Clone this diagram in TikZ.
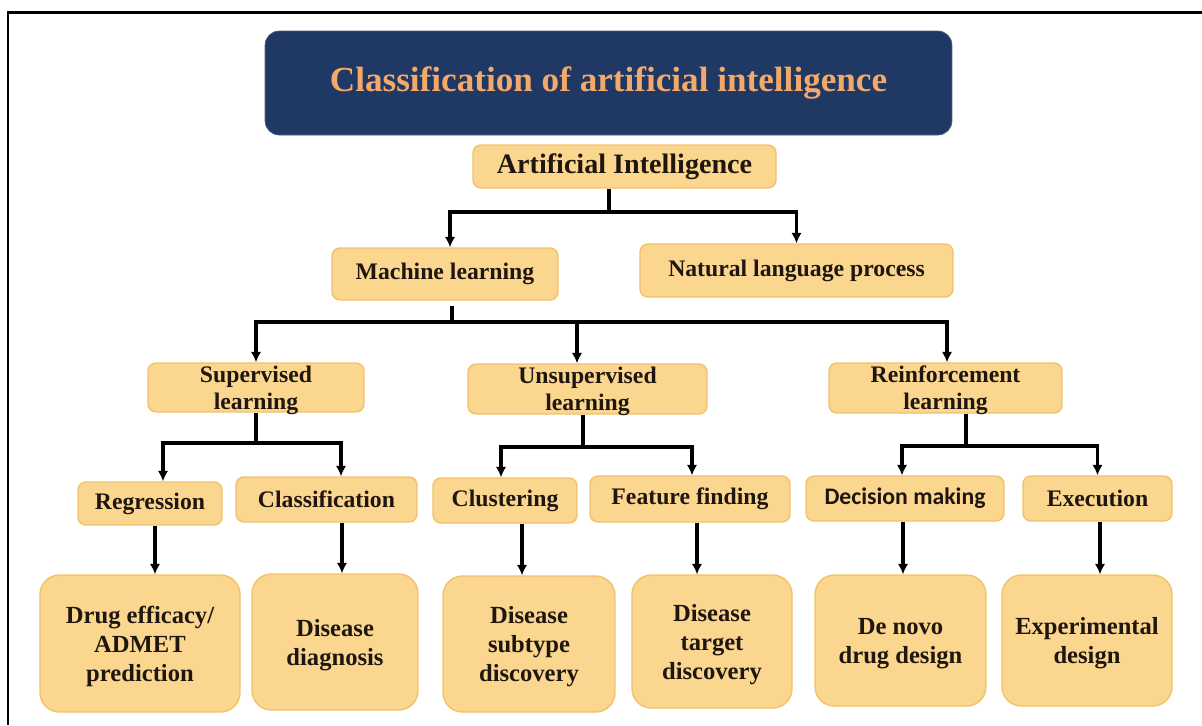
\documentclass[tikz,border=0pt]{standalone}
\usepackage{fontspec}
\setmainfont{Liberation Serif}
\newfontfamily\calibri{Carlito}
\usetikzlibrary{arrows.meta}

\definecolor{navy}{HTML}{1F3864}
\definecolor{boxfill}{HTML}{FAD68E}
\definecolor{boxline}{HTML}{F1C26A}
\definecolor{titletext}{HTML}{F3A96A}
\definecolor{ink}{HTML}{201610}

\begin{document}
\begin{tikzpicture}[x=0.02cm, y=-0.02cm,
	box/.style={draw=boxline, line width=0.8pt, fill=boxfill, rounded corners=4.5pt, text=ink, inner sep=0pt, align=center, font=\fontsize{13.5}{15.5}\selectfont\bfseries},
	twoline/.style={box, text depth=-0.5pt},
	bigbox/.style={box, rounded corners=11pt, font=\fontsize{14}{16.5}\selectfont\bfseries, text depth=-2.5pt},
	link/.style={line width=1.8pt, black},
	flow/.style={link, -{Latex[length=6pt,width=6pt]}}]
	\useasboundingbox (0,0) rectangle (1202,725);
	\draw[line width=1.2pt] (8,725) -- (8,12.5) -- (1202,12.5);

	% heading
	\node[fill=navy, draw=navy!80!white, rounded corners=8pt, minimum width=13.74cm, minimum height=2.08cm, text=titletext, font=\fontsize{20}{24}\selectfont\bfseries] (title) at (608.5,83) {Classification of artificial intelligence};

	% top of the tree
	\node[box, minimum width=6.06cm, minimum height=0.86cm, font=\fontsize{16}{18}\selectfont\bfseries] (ai) at (624.5,166.5) {Artificial Intelligence};
	\node[box, minimum width=4.52cm, minimum height=1.04cm] (ml) at (445,274) {Machine learning};
	\node[box, minimum width=6.26cm, minimum height=1.06cm] (nlp) at (796.5,270.5) {Natural language process};

	% learning types
	\node[twoline, minimum width=4.32cm, minimum height=0.98cm] (sl) at (256,387.5) {Supervised\\learning};
	\node[twoline, minimum width=4.78cm, minimum height=1.0cm] (ul) at (587.5,389) {Unsupervised\\learning};
	\node[twoline, minimum width=4.66cm, minimum height=1.0cm] (rl) at (945.5,388) {Reinforcement\\learning};

	% tasks
	\node[box, minimum width=2.88cm, minimum height=0.86cm] (reg) at (150,503.5) {Regression};
	\node[box, minimum width=3.62cm, minimum height=0.9cm] (cls) at (326.5,499.5) {Classification};
	\node[box, minimum width=2.88cm, minimum height=0.9cm] (clu) at (505,500.5) {Clustering};
	\node[box, minimum width=4.0cm, minimum height=0.92cm] (feat) at (690,499) {Feature finding};
	\node[box, minimum width=3.96cm, minimum height=0.9cm, font=\calibri\fontsize{13.5}{15.5}\selectfont\bfseries] (dec) at (905,498.5) {Decision making};
	\node[box, minimum width=2.98cm, minimum height=0.9cm] (exe) at (1097.5,498.5) {Execution};

	% applications
	\node[bigbox, minimum width=4.0cm, minimum height=2.74cm] (drug) at (140,643.5) {Drug efficacy/\\ADMET\\prediction};
	\node[bigbox, minimum width=3.32cm, minimum height=2.72cm] (diag) at (335,642) {Disease\\diagnosis};
	\node[bigbox, minimum width=3.44cm, minimum height=2.72cm] (sub) at (529,644) {Disease\\subtype\\discovery};
	\node[bigbox, minimum width=3.2cm, minimum height=2.66cm] (tgt) at (712,641.5) {Disease\\target\\discovery};
	\node[bigbox, minimum width=3.42cm, minimum height=2.62cm] (novo) at (900.5,640.5) {De novo\\drug design};
	\node[bigbox, minimum width=3.4cm, minimum height=2.62cm] (expd) at (1087,640.5) {Experimental\\design};

	% forks
	\coordinate (aifork) at (609,212);
	\coordinate (mlfork) at (452,322);
	\coordinate (slfork) at (256,443);
	\coordinate (ulfork) at (583,447);
	\coordinate (rlfork) at (966,446);

	\draw[link] (aifork |- ai.south) -- (aifork);
	\draw[flow] (aifork) -| ([xshift=0.1cm]ml.north);
	\draw[flow] (aifork) -| (nlp.north);

	\draw[link] ([yshift=-0.1cm]mlfork |- ml.south) -- (mlfork);
	\draw[flow] (mlfork) -| (sl.north);
	\draw[flow] (mlfork) -| ([xshift=-0.21cm]ul.north);
	\draw[flow] (mlfork) -| ([xshift=0.03cm]rl.north);

	\draw[link] (slfork |- sl.south) -- (slfork);
	\draw[flow] (slfork) -| ([xshift=0.26cm]reg.north);
	\draw[flow] (slfork) -| ([xshift=0.29cm]cls.north);

	\draw[link] (ulfork |- ul.south) -- (ulfork);
	\draw[flow] (ulfork) -| ([xshift=-0.08cm]clu.north);
	\draw[flow] (ulfork) -| ([xshift=0.04cm]feat.north);

	\draw[link] (rlfork |- rl.south) -- (rlfork);
	\draw[flow] (rlfork) -| ([xshift=-0.06cm]dec.north);
	\draw[flow] (rlfork) -| (exe.north);

	% tasks to applications
	\draw[flow] ([xshift=0.1cm]reg.south) -- ([xshift=0.1cm]reg.south |- drug.north);
	\draw[flow] ([xshift=0.31cm]cls.south) -- ([xshift=0.31cm]cls.south |- diag.north);
	\draw[flow] ([xshift=0.34cm]clu.south) -- ([xshift=0.34cm]clu.south |- sub.north);
	\draw[flow] ([xshift=0.14cm]feat.south) -- ([xshift=0.14cm]feat.south |- tgt.north);
	\draw[flow] ([xshift=-0.04cm]dec.south) -- ([xshift=-0.04cm]dec.south |- novo.north);
	\draw[flow] ([xshift=0.05cm]exe.south) -- ([xshift=0.05cm]exe.south |- expd.north);
\end{tikzpicture}
\end{document}
